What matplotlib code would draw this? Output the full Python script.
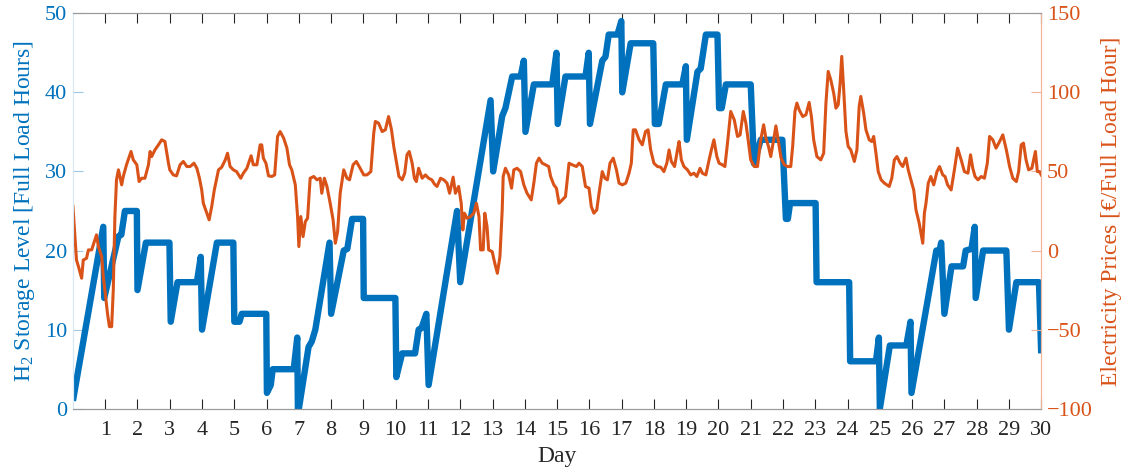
import matplotlib
matplotlib.use("Agg")
import matplotlib.pyplot as plt

plt.rcParams["font.family"] = ["Liberation Serif", "DejaVu Serif"]
plt.rcParams["mathtext.default"] = "regular"

BLUE = "#0072BD"
ORANGE = "#D95319"

# H2 storage level (left axis), breakpoints
storage_day = [0, 0.94, 0.97, 1.41, 1.5, 1.61, 1.98, 2.0, 2.26, 2.99, 3.03, 3.24, 3.84, 3.96,
               4.0, 4.46, 4.97, 5.0, 5.16, 5.23, 5.99, 6.01, 6.13, 6.19, 6.84, 6.95, 6.97,
               7.0, 7.3, 7.4, 7.51, 7.95, 8.0, 8.39, 8.5, 8.65, 8.99, 9.01, 9.99, 10.02,
               10.2, 10.6, 10.71, 10.8, 10.95, 11.02, 11.9, 12.0, 12.94, 13.02, 13.3, 13.4,
               13.61, 13.87, 13.97, 14.02, 14.28, 14.85, 14.98, 15.02, 15.26, 15.88, 15.98,
               16.02, 16.4, 16.5, 16.6, 16.87, 16.99, 17.02, 17.28, 17.98, 18.03, 18.15,
               18.37, 18.88, 18.99, 19.02, 19.35, 19.45, 19.61, 19.97, 20.02, 20.1, 20.23,
               21.0, 21.1, 21.31, 21.98, 22.09, 22.15, 22.22, 23.01, 23.04, 24.05, 24.08,
               24.88, 24.97, 25.0, 25.31, 25.82, 25.95, 25.98, 26.75, 26.85, 26.9, 27.0,
               27.22, 27.58, 27.66, 27.84, 27.94, 27.97, 28.2, 28.92, 29.0, 29.23, 29.93, 30.0]
storage_level = [1, 23, 14, 21.8, 22, 25, 25, 15, 21, 21, 11, 16, 16, 19.2,
                 10, 21, 21, 11, 11, 12, 12, 2, 3, 5, 5, 9, 0,
                 0, 7.8, 8.5, 10, 21, 12, 20, 20.2, 24, 24, 14, 14, 4,
                 7, 7, 10, 10.2, 12, 3, 25, 16, 39, 30, 37, 38,
                 42, 42, 44, 35, 41, 41, 45, 36, 42, 42, 45,
                 36, 44, 44.5, 47.3, 47.3, 49, 40, 46.2, 46.2, 36, 36,
                 41, 41, 43.3, 34, 42.6, 43, 47.3, 47.3, 38, 38, 41,
                 41, 31, 34, 34, 24, 24, 26, 26, 16, 16, 6,
                 6, 9, 0, 8, 8, 11, 2, 20, 20, 21, 12,
                 18, 18, 20, 20.2, 23, 14, 20, 20, 10, 16, 16, 7]

# Electricity prices (right axis)
price_day = [0.0, 0.11, 0.17, 0.27, 0.32, 0.42, 0.48, 0.58, 0.73, 0.79, 0.89, 0.94, 0.99, 1.07,
             1.13, 1.2, 1.25, 1.3, 1.35, 1.41, 1.51, 1.56, 1.66, 1.8, 1.87, 1.98, 2.05, 2.13,
             2.23, 2.34, 2.39, 2.44, 2.54, 2.65, 2.75, 2.85, 2.96, 3.0, 3.11, 3.21, 3.32, 3.42,
             3.53, 3.63, 3.75, 3.84, 3.92, 3.99, 4.04, 4.15, 4.22, 4.3, 4.38, 4.51, 4.61, 4.72,
             4.79, 4.87, 4.97, 5.07, 5.2, 5.28, 5.39, 5.52, 5.59, 5.7, 5.8, 5.85, 5.9, 5.98,
             6.06, 6.16, 6.25, 6.34, 6.42, 6.53, 6.63, 6.71, 6.78, 6.89, 6.96, 7.0, 7.06, 7.13,
             7.2, 7.27, 7.35, 7.46, 7.56, 7.66, 7.71, 7.79, 7.87, 7.97, 8.06, 8.13, 8.2, 8.28,
             8.39, 8.49, 8.57, 8.68, 8.78, 8.88, 9.01, 9.11, 9.23, 9.32, 9.37, 9.47, 9.58, 9.68,
             9.78, 9.87, 9.94, 10.03, 10.1, 10.2, 10.28, 10.35, 10.42, 10.51, 10.58, 10.64,
             10.71, 10.82, 10.92, 11.02, 11.12, 11.2, 11.28, 11.39, 11.49, 11.59, 11.67, 11.78,
             11.85, 11.95, 12.03, 12.08, 12.13, 12.21, 12.32, 12.42, 12.5, 12.58, 12.63, 12.71,
             12.76, 12.83, 12.88, 12.99, 13.07, 13.15, 13.23, 13.3, 13.33, 13.4, 13.5, 13.59,
             13.66, 13.76, 13.87, 13.97, 14.07, 14.2, 14.28, 14.36, 14.44, 14.54, 14.64, 14.74,
             14.8, 14.9, 14.98, 15.06, 15.16, 15.26, 15.37, 15.47, 15.6, 15.68, 15.78, 15.88,
             15.99, 16.06, 16.14, 16.23, 16.3, 16.4, 16.48, 16.56, 16.64, 16.74, 16.84, 16.92,
             17.02, 17.13, 17.23, 17.3, 17.36, 17.43, 17.54, 17.64, 17.74, 17.82, 17.9, 18.0,
             18.11, 18.21, 18.31, 18.4, 18.47, 18.54, 18.64, 18.73, 18.78, 18.85, 18.93, 19.04,
             19.14, 19.24, 19.33, 19.43, 19.5, 19.61, 19.71, 19.78, 19.86, 19.95, 20.02, 20.12,
             20.2, 20.28, 20.38, 20.49, 20.59, 20.67, 20.77, 20.85, 20.92, 21.0, 21.11, 21.21,
             21.31, 21.4, 21.47, 21.55, 21.62, 21.71, 21.78, 21.85, 21.94, 22.04, 22.14, 22.24,
             22.3, 22.37, 22.43, 22.5, 22.61, 22.71, 22.81, 22.88, 22.95, 23.05, 23.17, 23.26,
             23.33, 23.4, 23.48, 23.57, 23.64, 23.71, 23.77, 23.82, 23.88, 23.95, 24.02, 24.1,
             24.21, 24.29, 24.36, 24.41, 24.5, 24.57, 24.67, 24.75, 24.81, 24.88, 24.95, 25.04,
             25.14, 25.29, 25.37, 25.45, 25.53, 25.63, 25.71, 25.81, 25.88, 25.99, 26.05, 26.12,
             26.22, 26.33, 26.38, 26.43, 26.5, 26.58, 26.67, 26.77, 26.85, 26.95, 27.02, 27.1,
             27.21, 27.31, 27.41, 27.52, 27.62, 27.73, 27.81, 27.88, 27.95, 28.04, 28.14, 28.24,
             28.33, 28.4, 28.5, 28.6, 28.71, 28.81, 28.92, 29.02, 29.12, 29.23, 29.3, 29.38,
             29.45, 29.53, 29.61, 29.71, 29.82, 29.88, 29.95, 30.0]
price_value = [28, -6, -10, -17.5, -6, -4.9, 0.4, 0.4, 9.9, 2.5, -3.8, -16.5, -24.9, -39.7,
               -48.1, -48.1, -24.9, 21.5, 44.7, 51, 41.5, 46.8, 54.2, 62.6, 57.3, 54.2, 43.6, 45.7,
               45.7, 54.2, 62.6, 59.4, 63.6, 66.8, 70, 68.9, 55.2, 51, 47.8, 47.2, 54.2, 56.3,
               53.1, 53.1, 55.2, 52, 45.7, 38.3, 29.9, 23.6, 19.4, 27.8, 38.3, 51, 52.7, 57.3,
               61.5, 53.1, 51, 49.9, 45.7, 48.9, 52, 59.9, 54.2, 54.2, 66.8, 66.8, 58.4, 55.2,
               47.2, 46.8, 47.8, 72.1, 75.2, 71, 64.7, 54.2, 51, 41.5, 21.5, 2.5, 21.5, 8.8,
               18.3, 20.4, 45.7, 46.8, 44.7, 45.7, 36.2, 45.7, 40.5, 29.9, 19.4, 4.6, 12, 36.2,
               51, 45.7, 44.7, 54.2, 56.3, 52.7, 47.8, 47.8, 49.9, 74.2, 81.6, 80.5, 75.2, 76.3,
               84.7, 76.3, 65.8, 55.2, 46.8, 44.7, 48.9, 60.5, 62.6, 55.2, 45.7, 43.6,
               52, 45.7, 47.8, 45.7, 44.7, 42, 40.5, 45.7, 44.7, 42.6, 36.2, 46.4,
               36.2, 40.5, 29.9, 13, 23.6, 20.4, 21.5, 23.6, 29.9, 21.5, 0.4, 0.4,
               23.6, 15.2, 0.4, -0.7, -8, -14.4, -3.8, 25.7, 46.8, 52, 47.8, 39.4,
               51, 52, 49.9, 41.5, 36.2, 32, 42.6, 55.2, 58.4, 55.2, 54.2, 53.1,
               46.8, 41.5, 39.4, 29.9, 32, 34.1, 55.2, 54.2, 53.1, 55.2, 53.1, 40.5,
               39.4, 27.8, 23.6, 25.7, 36.2, 49.9, 45.7, 44.7, 55.2, 58.4, 51, 42.6,
               41.5, 42.6, 48.9, 55.2, 76.3, 76.3, 70, 66.8, 75.2, 76.3, 63.6, 55.2,
               53.1, 52.7, 49.9, 55.2, 63.6, 56.3, 53.1, 63.6, 68.9, 57.3, 53.1, 51,
               47.8, 48.9, 46.8, 52, 48.9, 47.8, 57.3, 63.6, 70, 59.4, 55.2, 54.2,
               53.1, 67.9, 87.9, 82.6, 72.1, 73.1, 87.9, 80.5, 70, 57.3, 53.1, 53.1,
               70, 79.5, 71, 65.8, 59.4, 70, 78.8, 70, 58.4, 54.2, 53.1, 53.1,
               66, 88, 93.2, 89, 84.7, 85.8, 93.6, 84.7, 70, 59.4, 57.3, 61.5,
               93.2, 113.2, 107.9, 99.5, 90, 92.1, 105.8, 122.7, 101.6, 75.2, 65.8, 63.6,
               56.3, 63.6, 91.1, 97.4, 86.8, 76.3, 70, 68.9, 72.1, 61.5, 49.9, 44.7,
               42.6, 40.5, 45.7, 57.3, 59.4, 55.2, 53.1, 58.4, 51, 42.6, 38.3, 25.7,
               17.3, 4.6, 23.6, 29.9, 42.6, 46.8, 41.5, 49.9, 53.1, 47.8, 46.8, 41.5,
               38.3, 51, 64.7, 57.3, 49.9, 48.9, 60.5, 52, 46.8, 44.7, 46.8, 45.7,
               55.2, 72.1, 70, 64.7, 68.9, 73.1, 63.6, 53.1, 45.7, 43.6, 49.9, 66.8,
               67.9, 57.3, 51, 52, 62.6, 49.9, 49.9, 47.8]

day_ticks = list(range(1, 31))
left_ticks = [0, 10, 20, 30, 40, 50]
right_ticks = [-100, -50, 0, 50, 100, 150]

fig = plt.figure(figsize=(11.22, 4.72), dpi=100)
ax = fig.add_axes([0.065, 0.134, 0.863, 0.838])
ax2 = ax.twinx()

ax.plot(storage_day, storage_level, color=BLUE, lw=4.6, solid_joinstyle="round",
        solid_capstyle="butt")
ax2.plot(price_day, price_value, color=ORANGE, lw=2.2, solid_joinstyle="round")

ax.set_xlim(0, 30)
ax.set_ylim(0, 50)
ax2.set_ylim(-100, 150)
ax.set_xticks(day_ticks)
ax.set_yticks(left_ticks)
ax2.set_yticks(right_ticks)

ax.tick_params(axis="x", direction="in", top=True, length=7, width=0.8,
               color="#262626", labelsize=16, labelcolor="#262626", pad=9)
ax.tick_params(axis="y", direction="in", length=7, width=0.8, color="#9cc7e6",
               labelsize=16, labelcolor=BLUE, pad=4)
ax2.tick_params(axis="y", direction="in", length=7, width=0.8, color="#f0b49a",
                labelsize=16, labelcolor=ORANGE, pad=4)

for a in (ax, ax2):
    a.spines["top"].set_color("#9a9a9a")
    a.spines["bottom"].set_color("#9a9a9a")
    a.spines["left"].set_color("#d6e8f5")
    a.spines["right"].set_color("#f0b49a")
    for s in a.spines.values():
        s.set_linewidth(0.8)

ax.set_xlabel("Day", fontsize=17, color="#262626", labelpad=4)
ax.set_ylabel("H$_2$ Storage Level [Full Load Hours]", fontsize=17, color=BLUE, labelpad=6)
ax2.set_ylabel("Electricity Prices [€/Full Load Hour]", fontsize=17, color=ORANGE, labelpad=6)

fig.savefig("out.png", dpi=100)
